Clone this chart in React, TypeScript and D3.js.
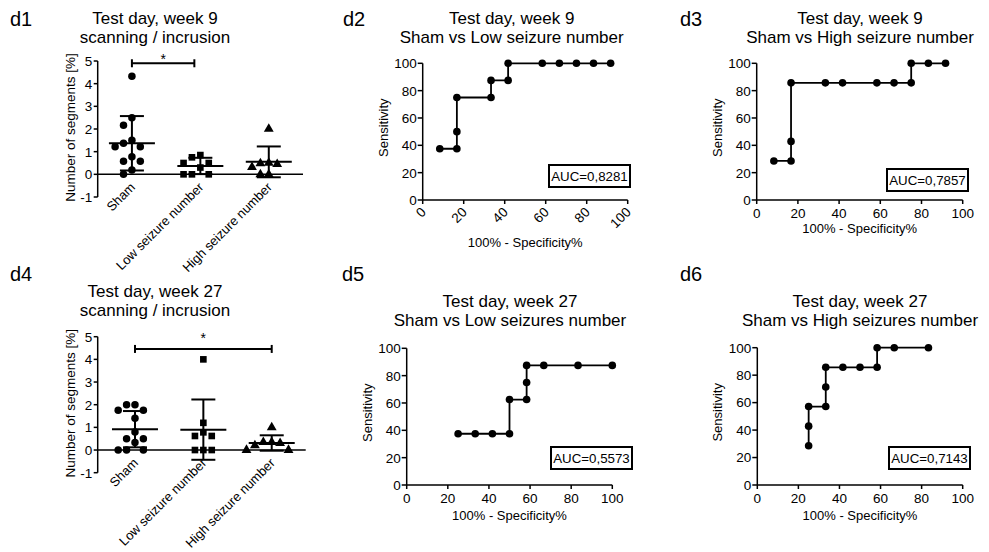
import React from 'react';
import * as d3 from 'd3';

const FONT = '"Liberation Sans", Arial, Helvetica, sans-serif';

// ---------- DATA ----------
const groupLabels = ['Sham', 'Low seizure number', 'High seizure number'];
const scatterTicks = [-1, 0, 1, 2, 3, 4, 5];
const rocTicks = [0, 20, 40, 60, 80, 100];

// week 9, scanning / incrusion (%)
const w9Sham = [4.33, 2.5, 2.17, 1.5, 1.37, 1.22, 1.22, 0.78, 0.58, 0.58, 0.19, 0];
const w9Low = [0.85, 0.75, 0.5, 0.5, 0.3, 0, 0, 0];
const w9High = [2.0, 0.5, 0.48, 0.45, 0.32, 0, 0];
const w9Mean = [1.37, 0.37, 0.55];
const w9Sd = [1.2, 0.36, 0.68];

// week 27
const w27Sham = [2.0, 2.0, 1.75, 1.75, 1.4, 0.8, 0.5, 0.5, 0.33, 0, 0, 0];
const w27Low = [4.0, 1.2, 0.78, 0.62, 0.62, 0, 0, 0];
const w27High = [1.0, 0.35, 0.35, 0.3, 0.2, 0, 0];
const w27Mean = [0.92, 0.9, 0.31];
const w27Sd = [0.8, 1.33, 0.34];

// ROC curves: x = 100% - specificity%, y = sensitivity
const d2X = [8.33, 16.67, 16.67, 16.67, 33.33, 33.33, 41.67, 41.67, 58.33, 66.67, 75, 83.33, 91.67];
const d2Y = [37.5, 37.5, 50, 75, 75, 87.5, 87.5, 100, 100, 100, 100, 100, 100];
const d3X = [8.33, 16.67, 16.67, 16.67, 33.33, 41.67, 58.33, 66.67, 75, 75, 83.33, 91.67];
const d3Y = [28.57, 28.57, 42.86, 85.71, 85.71, 85.71, 85.71, 85.71, 85.71, 100, 100, 100];
const d5X = [25, 33.33, 41.67, 50, 50, 58.33, 58.33, 58.33, 66.67, 83.33, 100];
const d5Y = [37.5, 37.5, 37.5, 37.5, 62.5, 62.5, 75, 87.5, 87.5, 87.5, 87.5];
const d6X = [25, 25, 25, 33.33, 33.33, 33.33, 41.67, 50, 58.33, 58.33, 66.67, 83.33];
const d6Y = [28.57, 42.86, 57.14, 57.14, 71.43, 85.71, 85.71, 85.71, 85.71, 100, 100, 100];
const aucLabels = ['AUC=0,8281', 'AUC=0,7857', 'AUC=0,5573', 'AUC=0,7143'];

// ---------- helpers ----------
const symbolTypes = [d3.symbolCircle, d3.symbolSquare, d3.symbolTriangle];
const symbolSizes = [44, 44, 42];

function dodge(values: number[], y: (v: number) => number, gap: number) {
  const placed: { v: number; slot: number }[] = [];
  const order = values.map((v, i) => i).sort((a, b) => values[b] - values[a]);
  const cands = [0, -1, 1, -2, 2, -3, 3];
  for (const i of order) {
    const v = values[i];
    for (const s of cands) {
      const clash = placed.some((p) => p.slot === s && Math.abs(y(p.v) - y(v)) < gap);
      if (!clash) {
        placed.push({ v, slot: s });
        break;
      }
    }
  }
  return placed;
}

function ScatterPanel({ lay, groups, means, sds }: any) {
  const x = d3.scalePoint<string>().domain(groupLabels).range([lay.px0, lay.px1]).padding(0.5);
  const y = d3.scaleLinear().domain([-1, 5]).range([lay.yB, lay.yT]);
  const slotW = 8.4;
  return (
    <g>
      <text x={lay.tagX} y={lay.tagY} fontSize={20}>{lay.tag}</text>
      {lay.title.map((t: string, i: number) => (
        <text key={i} x={lay.titleX} y={lay.titleY + i * 19} fontSize={17} textAnchor="middle">{t}</text>
      ))}
      {/* y axis */}
      <line x1={lay.ax} x2={lay.ax} y1={y(5)} y2={y(-1)} stroke="#000" strokeWidth={1.5} />
      {scatterTicks.map((t) => (
        <g key={t}>
          <line x1={lay.ax - 4} x2={lay.ax} y1={y(t)} y2={y(t)} stroke="#000" strokeWidth={1.5} />
          <text x={lay.ax - 5.5} y={y(t)} dy="0.36em" fontSize={13.5} textAnchor="end">{t}</text>
        </g>
      ))}
      <text transform={`translate(${lay.ax - 23},${(y(5) + y(-1)) / 2 - 1.5}) rotate(-90)`} fontSize={13.5} textAnchor="middle">Number of segments [%]</text>
      {/* zero line */}
      <line x1={lay.ax} x2={lay.axEnd} y1={y(0)} y2={y(0)} stroke="#000" strokeWidth={1.5} />
      {/* category labels */}
      {groupLabels.map((g) => (
        <text key={g} transform={`translate(${(x(g) as number) + 4},${y(-1) - 9}) rotate(-45)`} fontSize={13} textAnchor="end">{g}</text>
      ))}
      {/* points */}
      {groups.map((vals: number[], gi: number) => {
        const cx = x(groupLabels[gi]) as number;
        const pts = dodge(vals, y, 8);
        const path = d3.symbol().type(symbolTypes[gi]).size(symbolSizes[gi])() as string;
        return (
          <g key={gi}>
            {pts.map((p, k) => (
              <path key={k} d={path} transform={`translate(${cx + p.slot * slotW},${y(p.v)})`} fill="#000" />
            ))}
          </g>
        );
      })}
      {/* mean & sd */}
      {means.map((m: number, gi: number) => {
        const cx = x(groupLabels[gi]) as number;
        const top = y(m + sds[gi]);
        const bot = y(m - sds[gi]);
        return (
          <g key={gi} stroke="#000" strokeWidth={2}>
            <line x1={cx} x2={cx} y1={top} y2={bot} />
            <line x1={cx - 12} x2={cx + 12} y1={top} y2={top} />
            <line x1={cx - 12} x2={cx + 12} y1={bot} y2={bot} />
            <line x1={cx - 23} x2={cx + 23} y1={y(m)} y2={y(m)} />
          </g>
        );
      })}
      {/* significance bar */}
      {(() => {
        const x1 = x(groupLabels[lay.sig.from]) as number;
        const x2 = (x(groupLabels[lay.sig.to]) as number) + lay.sig.endShift;
        const yy = y(lay.sig.level);
        return (
          <g>
            <g stroke="#000" strokeWidth={2}>
              <line x1={x1} x2={x2} y1={yy} y2={yy} />
              <line x1={x1} x2={x1} y1={yy - 4} y2={yy + 4} />
              <line x1={x2} x2={x2} y1={yy - 4} y2={yy + 4} />
            </g>
            <text x={(x1 + x2) / 2} y={yy + lay.sig.starDy} fontSize={14} textAnchor="middle">*</text>
          </g>
        );
      })()}
    </g>
  );
}

function RocPanel({ lay, xs, ys, auc }: any) {
  const x = d3.scaleLinear().domain([0, 100]).range([lay.x0, lay.x1]);
  const y = d3.scaleLinear().domain([0, 100]).range([lay.yB, lay.yT]);
  const pts = xs.map((v: number, i: number) => [v, ys[i]] as [number, number]);
  const line = d3.line<[number, number]>().x((d) => x(d[0])).y((d) => y(d[1]));
  return (
    <g>
      <text x={lay.tagX} y={lay.tagY} fontSize={20}>{lay.tag}</text>
      {lay.title.map((t: string, i: number) => (
        <text key={i} x={lay.titleX} y={lay.titleY + i * 19} fontSize={17} textAnchor="middle">{t}</text>
      ))}
      <line x1={lay.x0} x2={lay.x0} y1={y(100)} y2={y(0)} stroke="#000" strokeWidth={1.5} />
      <line x1={lay.x0} x2={lay.x1} y1={y(0)} y2={y(0)} stroke="#000" strokeWidth={1.5} />
      {rocTicks.map((t) => (
        <g key={'y' + t}>
          <line x1={lay.x0 - 5} x2={lay.x0} y1={y(t)} y2={y(t)} stroke="#000" strokeWidth={1.5} />
          <text x={lay.x0 - 6} y={y(t)} dy="0.36em" fontSize={13.5} textAnchor="end">{t}</text>
        </g>
      ))}
      {rocTicks.map((t) => (
        <g key={'x' + t}>
          <line x1={x(t)} x2={x(t)} y1={y(0)} y2={y(0) + 4} stroke="#000" strokeWidth={1.5} />
          {lay.rotTicks ? (
            <text transform={`translate(${x(t) + 4},${y(0) + 13}) rotate(-45)`} fontSize={13.5} textAnchor="end">{t}</text>
          ) : (
            <text x={x(t)} y={y(0) + 18} fontSize={13.5} textAnchor="middle">{t}</text>
          )}
        </g>
      ))}
      <text transform={`translate(${lay.x0 - 35},${y(50) - 4}) rotate(-90)`} fontSize={13} textAnchor="middle">Sensitivity</text>
      <text x={(lay.x0 + lay.x1) / 2} y={y(0) + lay.xLabDy} fontSize={13} textAnchor="middle">100% - Specificity%</text>
      <path d={line(pts) as string} fill="none" stroke="#000" strokeWidth={1.8} />
      {pts.map((p: [number, number], i: number) => (
        <circle key={i} cx={x(p[0])} cy={y(p[1])} r={3.8} fill="#000" />
      ))}
      <rect x={lay.boxR - 81} y={lay.boxB - 22} width={81} height={22} fill="#fff" stroke="#000" strokeWidth={2} />
      <text x={lay.boxR - 40.5} y={lay.boxB - 6.5} fontSize={13.3} textAnchor="middle">{auc}</text>
    </g>
  );
}

const layD1 = { tag: 'd1', tagX: 10, tagY: 26, title: ['Test day, week 9', 'scanning / incrusion'], titleX: 155, titleY: 24,
  ax: 97.7, axEnd: 303, px0: 97.7, px1: 303, yT: 61, yB: 197, sig: { from: 0, to: 1, level: 4.9, endShift: -6, starDy: 1 } };
const layD4 = { tag: 'd4', tagX: 10, tagY: 281, title: ['Test day, week 27', 'scanning / incrusion'], titleX: 155, titleY: 297,
  ax: 97.7, axEnd: 305.7, px0: 100.8, px1: 305.9, yT: 336.7, yB: 472.7, sig: { from: 0, to: 2, level: 4.46, endShift: 0, starDy: -6 } };

const layD2 = { tag: 'd2', tagX: 343, tagY: 26, title: ['Test day, week 9', 'Sham vs Low seizure number'], titleX: 511.7, titleY: 24,
  x0: 422.7, x1: 627.7, yT: 63.3, yB: 200, rotTicks: true, xLabDy: 47, boxR: 630, boxB: 187 };
const layD3 = { tag: 'd3', tagX: 680, tagY: 26, title: ['Test day, week 9', 'Sham vs High seizure number'], titleX: 860, titleY: 24,
  x0: 756.7, x1: 962.7, yT: 63.3, yB: 200, rotTicks: false, xLabDy: 33, boxR: 968, boxB: 191 };
const layD5 = { tag: 'd5', tagX: 342, tagY: 281, title: ['Test day, week 27', 'Sham vs Low seizures number'], titleX: 510, titleY: 307,
  x0: 406.7, x1: 612.3, yT: 348.3, yB: 485, rotTicks: false, xLabDy: 35, boxR: 632, boxB: 469 };
const layD6 = { tag: 'd6', tagX: 680, tagY: 281, title: ['Test day, week 27', 'Sham vs High seizures number'], titleX: 860, titleY: 307,
  x0: 757.3, x1: 962.7, yT: 347.7, yB: 485, rotTicks: false, xLabDy: 35, boxR: 970, boxB: 469 };

export default function App() {
  return (
    <svg width={989} height={552} viewBox="0 0 989 552"
      style={{ position: 'absolute', left: 0, top: 0, background: '#fff', fontFamily: FONT }}>
      <rect x={0} y={0} width={989} height={552} fill="#fff" />
      <g fill="#000">
        <ScatterPanel lay={layD1} groups={[w9Sham, w9Low, w9High]} means={w9Mean} sds={w9Sd} />
        <ScatterPanel lay={layD4} groups={[w27Sham, w27Low, w27High]} means={w27Mean} sds={w27Sd} />
        <RocPanel lay={layD2} xs={d2X} ys={d2Y} auc={aucLabels[0]} />
        <RocPanel lay={layD3} xs={d3X} ys={d3Y} auc={aucLabels[1]} />
        <RocPanel lay={layD5} xs={d5X} ys={d5Y} auc={aucLabels[2]} />
        <RocPanel lay={layD6} xs={d6X} ys={d6Y} auc={aucLabels[3]} />
      </g>
    </svg>
  );
}
